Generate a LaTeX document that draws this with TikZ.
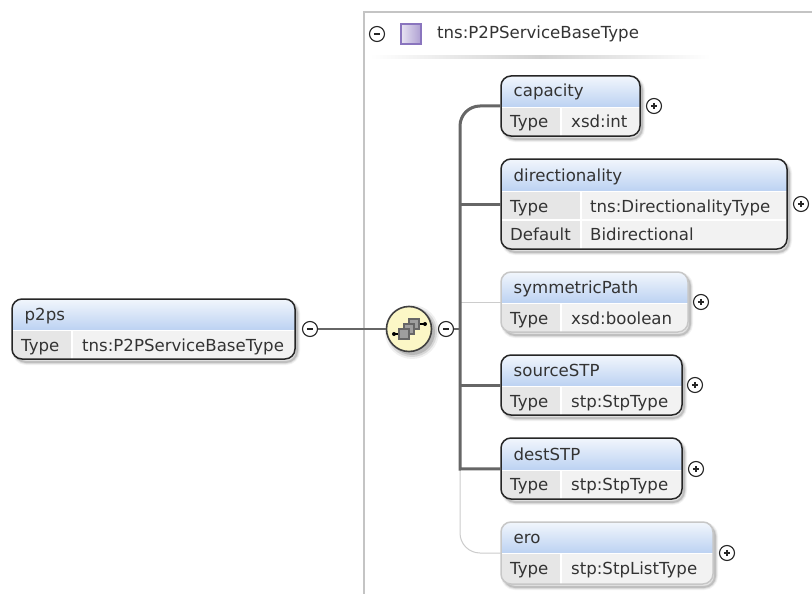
\documentclass[tikz,border=0pt]{standalone}
\usepackage{fontspec}
\setmainfont{DejaVu Sans}
\usetikzlibrary{shapes.geometric,calc}
\definecolor{txt}{HTML}{333333}
\definecolor{hdrb}{HTML}{BCD2F2}
\definecolor{cellA}{HTML}{E6E6E6}
\definecolor{cellB}{HTML}{F2F2F2}
\definecolor{darkline}{HTML}{666666}
\definecolor{lightline}{HTML}{CCCCCC}
\definecolor{panel}{HTML}{C4C4C4}
\definecolor{seqfill}{HTML}{FBF7C6}
\definecolor{purp}{HTML}{8A75BE}
\tikzset{
  lbl/.style={anchor=base west,inner sep=0pt,text=txt,font=\fontsize{16.6}{18}\selectfont},
  btn/.style={circle,draw=black!85,line width=1.1pt,fill=white,minimum size=15pt,inner sep=0pt},
  boxdark/.style={draw=black!85,line width=1.5pt},
  boxlight/.style={draw=black!22,line width=1.5pt},
  glyph/.style={draw=black!85,line width=1.1pt},
  trunk/.style={draw=darkline,line width=3pt},
  link/.style={draw=darkline,line width=2pt},
  thin link/.style={draw=lightline,line width=1pt},
  squarecell/.style={draw=black!60,fill=black!38,line width=1.1pt},
}
% id, border style, title, x1, y1, x2, y2, header bottom, column divider
\newcommand{\elem}[9]{%
  \foreach \w/\o in {6/.05,4/.08,2/.14}{
    \draw[black,opacity=\o,line width=\w pt,rounded corners=11pt]
      (#4+3,#5+3) rectangle (#6+2,#7+3);}
  \begin{scope}
    \clip[rounded corners=10pt] (#4,#5) rectangle (#6,#7);
    \fill[cellB] (#4,#5) rectangle (#6,#7);
    \fill[cellA] (#4,#8) rectangle (#9,#7);
    \shade[top color=white!80!hdrb,bottom color=hdrb] (#4,#5) rectangle (#6,#8);
    \draw[white,line width=1.2pt] (#4,#8+.6) -- (#6,#8+.6);
    \draw[white,line width=1.2pt] (#9,#8) -- (#9,#7);
  \end{scope}
  \pgfmathsetmacro{\cx}{(#4+#6)/2}\pgfmathsetmacro{\cy}{(#5+#7)/2}
  \pgfmathsetmacro{\bw}{#6-#4}\pgfmathsetmacro{\bh}{#7-#5}
  \node[#2,rounded corners=10pt,minimum width=\bw pt,minimum height=\bh pt,inner sep=0pt,outer sep=0pt] (#1) at (\cx,\cy) {};
  \node[lbl] (#1-title) at (#4+12.5,#8-10) {#3};
}
\newcommand{\plusbtn}[3]{\node[btn] (#1) at (#2,#3) {};
  \draw[glyph] ($(#1)+(-3.2,0)$) -- ($(#1)+(3.2,0)$) ($(#1)+(0,-3.2)$) -- ($(#1)+(0,3.2)$);}
\newcommand{\minusbtn}[3]{\node[btn] (#1) at (#2,#3) {};
  \draw[glyph] ($(#1)+(-3.2,0)$) -- ($(#1)+(3.2,0)$);}
\begin{document}
\begin{tikzpicture}[x=1pt,y=-1pt]
\useasboundingbox (0,0) rectangle (812,594);
\fill[white] (0,0) rectangle (812,594);
% panel frame
\coordinate (ptop) at (364,12); \coordinate (pright) at (812,12); \coordinate (pbot) at (364,594);
\draw[panel,line width=1.6pt] (pright) -- (ptop) -- (pbot);
% panel header
\minusbtn{pm}{377}{34}
\node[draw=purp,line width=1.4pt,minimum size=20pt,inner sep=0pt,shading=axis,shading angle=135,left color=white!80!purp,right color=purp!70!white] (ptype) at (411,34) {};
\node[lbl] (ptitle) at (437,39) {tns:P2PServiceBaseType};
\shade[left color=white,right color=white,middle color=black!18] (370,56) rectangle (710,59);
% trunk coordinates
\coordinate (tr) at (460,329);
\coordinate (trA) at (460,204);
\coordinate (trB) at (460,302);
\coordinate (trC) at (460,385);
\coordinate (trD) at (460,469);
\coordinate (trTop1) at (480,106);
\coordinate (trTopC1) at (469,106);
\coordinate (trTopC2) at (460,115);
\coordinate (trTop2) at (460,126);
\coordinate (trEro) at (460,553);
% elements
\elem{capacity}{boxdark}{capacity}{501}{76}{640}{136}{107}{561}
\elem{direc}{boxdark}{directionality}{501}{159}{787}{249}{191}{581}
\elem{sym}{boxlight}{symmetricPath}{501}{272}{688}{332}{303}{561}
\elem{source}{boxdark}{sourceSTP}{501}{355}{682}{415}{386}{561}
\elem{dest}{boxdark}{destSTP}{501}{438}{682}{499}{470}{561}
\elem{ero}{boxlight}{ero}{501}{522}{713}{584}{553}{561}
\elem{p2ps}{boxdark}{p2ps}{12}{299}{295}{359}{330}{72}
\draw[white,line width=1.2pt] (502,220) -- (786,220);
% cells
\node[lbl] (c1) at (510,128) {Type}; \node[lbl] (c2) at (571,128) {xsd:int};
\node[lbl] (d1) at (510,212) {Type}; \node[lbl] (d2) at (590,212) {tns:DirectionalityType};
\node[lbl] (d3) at (510,240) {Default}; \node[lbl] (d4) at (590,240) {Bidirectional};
\node[lbl] (s1) at (510,324) {Type}; \node[lbl] (s2) at (571,324) {xsd:boolean};
\node[lbl] (o1) at (510,407) {Type}; \node[lbl] (o2) at (571,407) {stp:StpType};
\node[lbl] (e1) at (510,490) {Type}; \node[lbl] (e2) at (571,490) {stp:StpType};
\node[lbl] (r1) at (510,574) {Type}; \node[lbl] (r2) at (571,574) {stp:StpListType};
\node[lbl] (p1) at (21,351) {Type}; \node[lbl] (p2) at (82,351) {tns:P2PServiceBaseType};
% buttons
\plusbtn{bc}{654}{106}
\plusbtn{bd}{801}{204}
\plusbtn{bs}{701}{302}
\plusbtn{bo}{695}{385}
\plusbtn{be}{696}{469}
\plusbtn{br}{727}{553}
\minusbtn{ms}{446}{329}
\minusbtn{mp}{310}{329}
% sequence compositor
\foreach \w/\o in {5/.06,3/.1,1/.14}{\fill[black,opacity=\o] (412,332) circle (22+\w);}
\node[circle,draw=black!75,line width=1.6pt,fill=seqfill,minimum size=45pt,inner sep=0pt] (seq) at (409,329) {};
\draw[black,line width=1.1pt] (394,334) -- (399,334) (419,324) -- (425,324);
\fill[black] (394,334) circle (2) (425,324) circle (2);
\draw[squarecell] (409,319) rectangle (419,329);
\draw[squarecell] (404,324) rectangle (414,334);
\draw[squarecell] (399,329) rectangle (409,339);
% connectors
\draw[thin link] (trB) -- (sym);
\draw[thin link,rounded corners=20pt] (trD) -- (trEro) -- (ero);
\draw[trunk] (capacity) -- (trTop1) .. controls (trTopC1) and (trTopC2) .. (trTop2) -- (trD) -- (dest);
\draw[trunk] (trA) -- (direc);
\draw[trunk] (trC) -- (source);
\draw[link] (ms) -- (tr);
\draw[link] (mp) -- (seq);
\end{tikzpicture}
\end{document}
